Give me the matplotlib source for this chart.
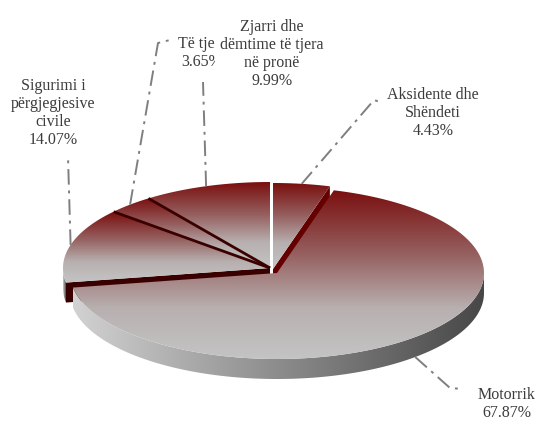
import matplotlib
matplotlib.use('Agg')
import matplotlib.pyplot as plt
from matplotlib.colors import LinearSegmentedColormap
from matplotlib.patches import Polygon
import numpy as np

# slice data (clockwise from 12 o'clock)
categories = ['Aksidente dhe\nShëndeti', 'Motorrik', 'Sigurimi i\npërgjegjesive\ncivile',
              'Të tjera', 'Zjarri dhe\ndëmtime të tjera\nnë pronë']
shares = [4.43, 67.87, 14.07, 3.65, 9.99]

# layout (pixel space)
CX, CY = 270, 268
RX, RY = 207, 86
DEPTH = 20
explode = [(3, 1), (7, 5), (0, 0), (0, 0), (0, 0)]
label_pos = [(433, 113), (507, 404), (53, 113), (202, 53), (272, 54)]
elbows = [[(374, 100), (380, 102)], [(450, 388), (463, 389)], [(68, 157)],
          [(158, 43), (170, 40)], [(203, 82)]]

TEXT_COLOR = '#3c3c3c'
LEAD_COLOR = '#7f7f7f'
top_cmap = LinearSegmentedColormap.from_list(
    'top', [(0, '#7a0f0f'), (0.38, '#966060'), (0.7, '#b8b0b0'), (1, '#c4c4c4')])
side_cmap = LinearSegmentedColormap.from_list('side', ['#d2d2d2', '#8c8c8c', '#474747'])

fig = plt.figure(figsize=(5.4, 4.21), dpi=100)
ax = fig.add_axes([0, 0, 1, 1])
ax.set_xlim(0, 540)
ax.set_ylim(421, 0)
ax.axis('off')

# angles
fr = np.array(shares) / sum(shares)
ends = 90 - np.cumsum(fr) * 360
starts = np.concatenate([[90], ends[:-1]])


def rim(cx, cy, deg):
    t = np.radians(deg)
    return cx + RX * np.cos(t), cy - RY * np.sin(t)


def grad_fill(poly_xy, cmap, vertical=True, z=1):
    patch = Polygon(poly_xy, closed=True, facecolor='none', edgecolor='none', zorder=z)
    ax.add_patch(patch)
    x0, y0 = poly_xy.min(axis=0)
    x1, y1 = poly_xy.max(axis=0)
    g = np.linspace(0, 1, 256)
    arr = g[:, None] if vertical else g[None, :]
    im = ax.imshow(arr, cmap=cmap, extent=(x0, x1, y1, y0), aspect='auto',
                   interpolation='bilinear', zorder=z)
    im.set_clip_path(patch)


def top_poly(i):
    cx, cy = CX + explode[i][0], CY + explode[i][1]
    a = np.linspace(starts[i], ends[i], 200)
    xs, ys = rim(cx, cy, a)
    return np.column_stack([np.r_[cx, xs], np.r_[cy, ys]])


def cut_face(i, deg, color, z):
    cx, cy = CX + explode[i][0], CY + explode[i][1]
    rx, ry = rim(cx, cy, deg)
    pts = [(cx, cy), (rx, ry), (rx, ry + DEPTH), (cx, cy + DEPTH)]
    ax.add_patch(Polygon(pts, closed=True, facecolor=color, edgecolor='none', zorder=z))


def side_wall(i, a0, a1, z):
    cx, cy = CX + explode[i][0], CY + explode[i][1]
    a = np.linspace(a0, a1, 200)
    xs, ys = rim(cx, cy, a)
    pts = np.column_stack([np.r_[xs, xs[::-1]], np.r_[ys, ys[::-1] + DEPTH]])
    grad_fill(pts, side_cmap, vertical=False, z=z)


# back slices: Sigurimi, Të tjera, Zjarri
side_wall(2, 180, starts[2] % 360, 1)
cut_face(2, starts[2], '#3a0000', 2)
for i in [2, 3, 4]:
    grad_fill(top_poly(i), top_cmap, z=3)
for i in [3, 4]:
    cx, cy = CX + explode[i][0], CY + explode[i][1]
    rx, ry = rim(cx, cy, starts[i])
    ax.plot([cx, rx], [cy, ry], color='#3a0000', lw=2, zorder=4, solid_capstyle='butt')

# Aksidente (exploded)
cut_face(0, ends[0], '#640000', 4)
grad_fill(top_poly(0), top_cmap, z=5)

# Motorrik front slice
side_wall(1, ends[1] % 360, 360, 6)
grad_fill(top_poly(1), top_cmap, z=7)

# labels and leader lines
for i, lab in enumerate(categories):
    text = f'{lab}\n{shares[i]:.2f}%'
    mid = (starts[i] + ends[i]) / 2
    cx, cy = CX + explode[i][0], CY + explode[i][1]
    ax_, ay_ = rim(cx, cy, mid)
    if np.sin(np.radians(mid)) < 0:
        ay_ += DEPTH
    pts = [(ax_, ay_)] + elbows[i]
    ax.plot([p[0] for p in pts], [p[1] for p in pts], color=LEAD_COLOR, lw=1.4,
            linestyle=(0, (8, 3, 1.5, 3)), zorder=8)
    bbox = dict(boxstyle='square,pad=0.3', fc='white', ec='none') if i == 4 else None
    ax.text(label_pos[i][0], label_pos[i][1], text, ha='center', va='center',
            fontsize=11.5, family='Liberation Serif', color=TEXT_COLOR,
            linespacing=1.18, bbox=bbox, zorder=10 if i == 4 else 9)

plt.savefig('out.png', dpi=100, facecolor='white')
plt.close()
